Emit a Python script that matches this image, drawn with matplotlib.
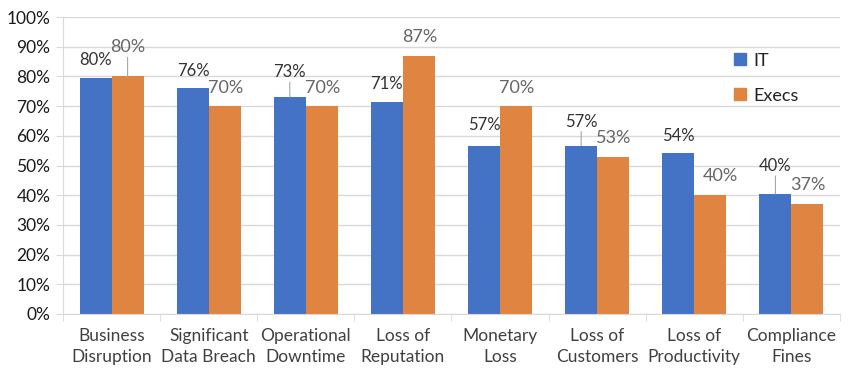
import matplotlib.pyplot as plt
import numpy as np
from matplotlib.patches import Patch

plt.rcParams['font.family'] = ['Lato', 'DejaVu Sans']

# ── Data ─────────────────────────────────────────────────────────
categories = ['Business\nDisruption', 'Significant\nData Breach', 'Operational\nDowntime',
              'Loss of\nReputation', 'Monetary\nLoss', 'Loss of\nCustomers',
              'Loss of\nProductivity', 'Compliance\nFines']
it_vals = [79.6, 76.2, 73.0, 71.4, 56.6, 56.7, 54.2, 40.4]
exec_vals = [80.0, 70.0, 70.0, 86.8, 70.0, 53.0, 40.0, 37.1]
yticks = [0, 10, 20, 30, 40, 50, 60, 70, 80, 90, 100]

# label placement (pixel offsets from bar top: dx, dy, leader line?)
it_offsets = [(0, 18, False), (1, 17, False), (0, 25, True), (0, 18, False),
              (0, 21, False), (0, 24, True), (0, 17, False), (0, 28, True)]
ex_offsets = [(0, 29, True), (1, 18, False), (1, 18, False), (1, 19, False),
              (1, 18, False), (0, 19, False), (10, 19, False), (0, 19, False)]

blue = '#4472C4'
orange = '#E08442'

fig = plt.figure(figsize=(8.5, 3.73), dpi=100)
ax = fig.add_axes([63/850, 1 - 314/373, (840-63)/850, (314-17)/373])

x = np.arange(len(categories))
w = 0.33
b1 = ax.bar(x - w/2, it_vals, w, color=blue, zorder=2)
b2 = ax.bar(x + w/2, exec_vals, w, color=orange, zorder=2)

ax.set_xlim(-0.5, len(categories) - 0.5)
ax.set_ylim(0, 100)
ax.set_yticks(yticks)
ax.set_yticklabels([f'{t}%' for t in yticks], fontsize=12.5, color='#1a1a1a')
ax.grid(axis='y', color='#d9d9d9', linewidth=1, zorder=0)

ax.set_xticks(x)
ax.set_xticklabels(categories, fontsize=12.5, color='#404040', linespacing=1.4)
ax.tick_params(axis='x', length=0, pad=10)
ax.set_xticks(np.arange(len(categories) + 1) - 0.5, minor=True)
ax.tick_params(axis='x', which='minor', length=5, color='#d9d9d9')
ax.tick_params(axis='y', length=5, color='#d9d9d9', pad=4)

for s in ['top', 'right']:
    ax.spines[s].set_visible(False)
for s in ['left', 'bottom']:
    ax.spines[s].set_color('#d9d9d9')


def add_labels(bars, vals, offsets, color, size):
    for bar, v, (dx, dy, lead) in zip(bars, vals, offsets):
        cx = bar.get_x() + bar.get_width()/2
        ax.annotate(f'{v:.0f}%', (cx, v), xytext=(dx, dy), textcoords='offset pixels',
                    ha='center', va='center', fontsize=size, color=color, zorder=4)
        if lead:
            ax.annotate('', (cx, v), xytext=(0, dy - 10), textcoords='offset pixels',
                        arrowprops=dict(arrowstyle='-', color='#a6a6a6', lw=0.8,
                                        shrinkA=0, shrinkB=0), zorder=3)


add_labels(b1, it_vals, it_offsets, '#333333', 12)
add_labels(b2, exec_vals, ex_offsets, '#666666', 13)

handles = [Patch(color=blue, label='IT'), Patch(color=orange, label='Execs')]
ax.legend(handles=handles, loc='upper left', bbox_to_anchor=(0.843, 0.935),
          frameon=False, fontsize=13, handlelength=0.65, handleheight=0.65,
          handletextpad=0.4, labelspacing=1.05, labelcolor='#222222')

plt.savefig('out.png', dpi=100)
